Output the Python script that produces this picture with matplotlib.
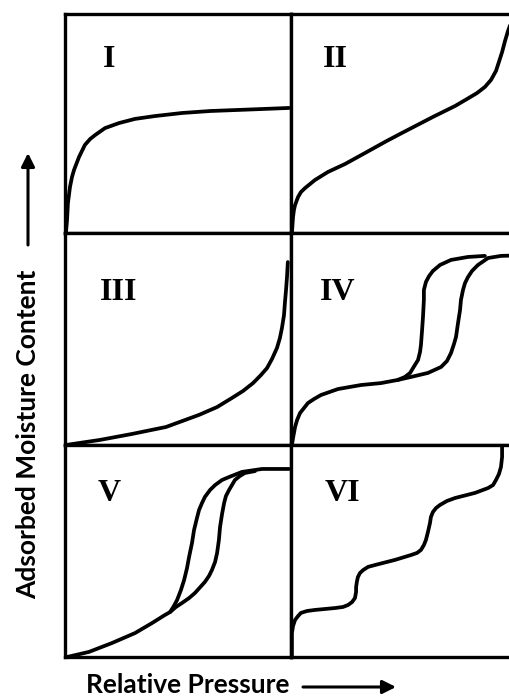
import matplotlib
matplotlib.use("Agg")
import matplotlib.pyplot as plt
from matplotlib.patches import FancyArrowPatch

# isotherm shapes (panel-relative: 0..1 in x and y)
type1_x = [0.004, 0.009, 0.013, 0.022, 0.031, 0.04, 0.062, 0.088, 0.111, 0.133, 0.177, 0.239, 0.31, 0.398, 0.518, 0.642, 0.819, 0.991]
type1_y = [0.0, 0.059, 0.137, 0.21, 0.256, 0.288, 0.347, 0.402, 0.429, 0.447, 0.479, 0.502, 0.521, 0.534, 0.548, 0.557, 0.564, 0.571]

type2_x = [0.004, 0.009, 0.013, 0.018, 0.031, 0.044, 0.062, 0.106, 0.164, 0.239, 0.327, 0.416, 0.482, 0.628, 0.726,
           0.779, 0.823, 0.858, 0.885, 0.907, 0.92, 0.934, 0.947, 0.96, 0.978]
type2_y = [0.0, 0.073, 0.105, 0.128, 0.164, 0.187, 0.205, 0.242, 0.279, 0.315, 0.365, 0.416, 0.452, 0.53, 0.58,
           0.612, 0.639, 0.667, 0.699, 0.74, 0.781, 0.826, 0.877, 0.922, 0.973]

type3_x = [0.004, 0.155, 0.296, 0.447, 0.593, 0.673, 0.739, 0.788, 0.832, 0.867, 0.894, 0.916, 0.938, 0.951, 0.96,
           0.969, 0.973, 0.978, 0.982, 0.986]
type3_y = [0.0, 0.024, 0.052, 0.085, 0.142, 0.179, 0.222, 0.255, 0.292, 0.33, 0.363, 0.406, 0.458, 0.505, 0.552,
           0.613, 0.67, 0.731, 0.788, 0.863]

# type IV: adsorption branch and desorption branch
type4_ads_x = [0.004, 0.009, 0.018, 0.027, 0.04, 0.058, 0.075, 0.102, 0.133, 0.208, 0.31, 0.398, 0.473, 0.531, 0.606,
               0.664, 0.69, 0.708, 0.721, 0.73, 0.739, 0.748, 0.752, 0.761, 0.77, 0.783, 0.801, 0.827, 0.872, 0.929, 0.991]
type4_ads_y = [0.0, 0.033, 0.085, 0.118, 0.151, 0.175, 0.198, 0.217, 0.236, 0.264, 0.283, 0.292, 0.307, 0.321, 0.34,
               0.368, 0.396, 0.434, 0.476, 0.509, 0.575, 0.637, 0.684, 0.731, 0.764, 0.792, 0.821, 0.849, 0.882, 0.892, 0.894]
type4_des_x = [0.473, 0.504, 0.527, 0.54, 0.562, 0.571, 0.575, 0.58, 0.584, 0.588, 0.588, 0.597, 0.611, 0.628, 0.659,
               0.708, 0.783, 0.858]
type4_des_y = [0.307, 0.321, 0.34, 0.363, 0.401, 0.439, 0.472, 0.542, 0.604, 0.684, 0.731, 0.769, 0.797, 0.821, 0.849,
               0.873, 0.887, 0.892]

# type V: adsorption branch and desorption branch
type5_ads_x = [0.009, 0.106, 0.208, 0.31, 0.385, 0.442, 0.465, 0.491, 0.518, 0.549, 0.575, 0.619, 0.637, 0.65, 0.664,
               0.673, 0.681, 0.686, 0.695, 0.704, 0.712, 0.726, 0.752, 0.774, 0.796, 0.841]
type5_ads_y = [0.0, 0.024, 0.066, 0.113, 0.16, 0.198, 0.212, 0.236, 0.255, 0.278, 0.302, 0.354, 0.382, 0.41, 0.448,
               0.491, 0.552, 0.613, 0.675, 0.726, 0.759, 0.788, 0.835, 0.854, 0.868, 0.877]
type5_des_x = [0.465, 0.482, 0.496, 0.513, 0.527, 0.54, 0.549, 0.562, 0.571, 0.584, 0.593, 0.606, 0.619, 0.642, 0.664,
               0.695, 0.726, 0.783, 0.872, 0.991]
type5_des_y = [0.212, 0.241, 0.269, 0.316, 0.363, 0.42, 0.472, 0.538, 0.599, 0.656, 0.693, 0.726, 0.755, 0.788, 0.811,
               0.835, 0.849, 0.873, 0.887, 0.887]

type6_x = [0.004, 0.004, 0.004, 0.009, 0.018, 0.031, 0.044, 0.071, 0.106, 0.195, 0.23, 0.252, 0.27, 0.283, 0.288,
           0.288, 0.292, 0.296, 0.305, 0.319, 0.341, 0.372, 0.46, 0.531, 0.558, 0.575, 0.588, 0.597, 0.606, 0.615,
           0.619, 0.628, 0.642, 0.659, 0.69, 0.726, 0.814, 0.872, 0.894, 0.907, 0.92, 0.929, 0.934, 0.934]
type6_y = [0.0, 0.057, 0.113, 0.146, 0.175, 0.193, 0.208, 0.217, 0.222, 0.231, 0.236, 0.245, 0.259, 0.278, 0.307,
           0.33, 0.358, 0.377, 0.396, 0.41, 0.425, 0.434, 0.458, 0.481, 0.491, 0.505, 0.528, 0.552, 0.59, 0.632,
           0.66, 0.684, 0.703, 0.717, 0.736, 0.75, 0.774, 0.797, 0.811, 0.835, 0.863, 0.896, 0.943, 0.991]

labels = ["I", "II", "III", "IV", "V", "VI"]
label_x = [0.168, 0.142, 0.155, 0.128, 0.146, 0.15]
label_y = [0.79, 0.79, 0.72, 0.72, 0.77, 0.77]
curves = [
    [(type1_x, type1_y)],
    [(type2_x, type2_y)],
    [(type3_x, type3_y)],
    [(type4_ads_x, type4_ads_y), (type4_des_x, type4_des_y)],
    [(type5_ads_x, type5_ads_y), (type5_des_x, type5_des_y)],
    [(type6_x, type6_y)],
]

W, H = 509, 697
fig = plt.figure(figsize=(W / 100, H / 100), dpi=100)

# panel boxes in pixels: column lefts, row tops/bottoms
col_left = [65, 291]
col_w = 226
row_edges = [(14, 233), (233, 445), (445, 657)]

for i, lab in enumerate(labels):
    r, c = divmod(i, 2)
    top, bot = row_edges[r]
    ax = fig.add_axes([col_left[c] / W, 1 - bot / H, col_w / W, (bot - top) / H])
    ax.set_xlim(0, 1)
    ax.set_ylim(0, 1)
    ax.set_xticks([])
    ax.set_yticks([])
    for s in ax.spines.values():
        s.set_linewidth(2.4)
    for xs, ys in curves[i]:
        ax.plot(xs, ys, color="k", lw=2.7, solid_joinstyle="round",
                solid_capstyle="round", clip_on=False)
    ax.text(label_x[i], label_y[i], lab, transform=ax.transAxes,
            ha="left", va="center", fontsize=23, fontweight="bold",
            family="Liberation Serif")

# axis titles with arrows
fig.text(28 / W, 1 - 434 / H, "Adsorbed Moisture Content", rotation=90,
         ha="center", va="center", fontsize=19, fontweight="bold", family="Lato")
fig.text(188 / W, 1 - 693 / H, "Relative Pressure",
         ha="center", va="baseline", fontsize=19, fontweight="bold", family="Lato")

arrow = dict(arrowstyle="-|>", lw=2.2, color="k", mutation_scale=20,
             shrinkA=0, shrinkB=0, transform=fig.transFigure)
fig.add_artist(FancyArrowPatch((28 / W, 1 - 245 / H), (28 / W, 1 - 153 / H), **arrow))
fig.add_artist(FancyArrowPatch((303 / W, 1 - 687 / H), (396 / W, 1 - 687 / H), **arrow))

fig.savefig("out.png", dpi=100)
